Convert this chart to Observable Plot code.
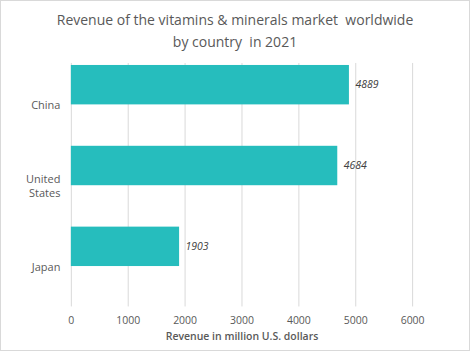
<!DOCTYPE html>
<html><head><meta charset="utf-8">
<script src="https://cdn.jsdelivr.net/npm/d3@7"></script>
<script src="https://cdn.jsdelivr.net/npm/@observablehq/plot@0.6"></script>
<style>
body{margin:0;background:#fff;}
#wrap{position:relative;width:468px;height:349px;border:1px solid #d9d9d9;background:#fff;font-family:"Open Sans",sans-serif;}
#title{position:absolute;top:8px;left:0;width:100%;text-align:center;font-size:14px;line-height:21.5px;color:#595959;}
#chart{position:absolute;top:51px;left:-1px;}
</style></head>
<body><div id="wrap"><div id="title">Revenue of the vitamins &amp; minerals market&nbsp; worldwide<br>by country&nbsp; in 2021</div><div id="chart"></div></div>
<script>
const countries = ["China", "United States", "Japan"];
const revenue = [4889, 4684, 1903];
const xTicks = [0, 1000, 2000, 3000, 4000, 5000, 6000];
const data = countries.map((c, i) => ({country: c, value: revenue[i]}));
const chart = Plot.plot({
  width: 470, height: 298,
  marginTop: 11, marginBottom: 43, marginLeft: 71, marginRight: 57,
  style: {fontFamily: "Open Sans, sans-serif", color: "#595959", background: "transparent"},
  x: {domain: [0, 6000], ticks: xTicks, label: null},
  y: {domain: countries, padding: 0, label: null},
  marks: [
    Plot.gridX(xTicks, {stroke: "#d9d9d9", strokeOpacity: 1, strokeWidth: 1}),
    Plot.barX(data, {y: "country", x: "value", fill: "#26bdbd", insetTop: 1, insetBottom: 40.5}),
    Plot.text(data, {y: "country", x: "value", text: d => String(d.value), dx: 6, dy: -20, textAnchor: "start", fontStyle: "italic", fontSize: 10.5, fill: "#404040"}),
    Plot.axisX(xTicks, {tickSize: 0, tickPadding: 10, fontSize: 10.5, fill: "#595959", label: null, tickFormat: d => String(d)}),
    Plot.axisY({tickSize: 0, tickPadding: 11, fontSize: 11, fill: "#595959", fontWeight: 500, label: null, tickFormat: d => d === "United States" ? "United\nStates" : d, lineHeight: 1.3}),
    Plot.text(["Revenue in million U.S. dollars"], {frameAnchor: "bottom", dy: 33, fontSize: 10.5, fontWeight: 600, fill: "#595959"})
  ]
});
document.getElementById("chart").appendChild(chart);
</script></body></html>
